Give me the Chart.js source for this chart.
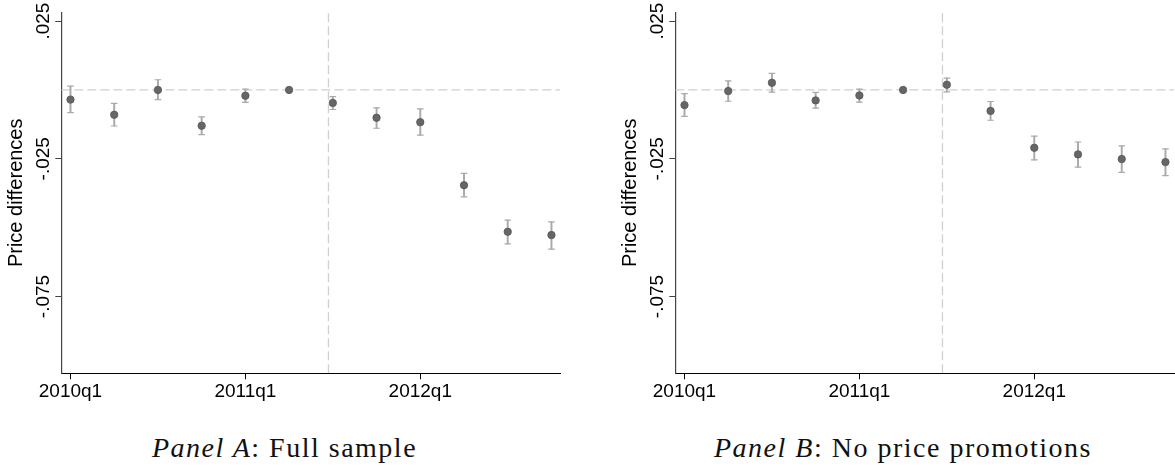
<!DOCTYPE html>
<html>
<head>
<meta charset="utf-8">
<script src="https://cdn.jsdelivr.net/npm/chart.js@4/dist/chart.umd.min.js"></script>
<style>
  html, body { margin: 0; padding: 0; background: #fff; overflow: hidden; }
  body { width: 1175px; height: 468px; position: relative; }
  .panel { position: absolute; top: 0; width: 580px; height: 410px; }
  #panelA { left: 0; }
  #panelB { left: 614.3px; }
  .caption {
    position: absolute; top: 432px; width: 420px;
    font-family: "Liberation Serif", serif; font-size: 28px; letter-spacing: 1.5px;
    white-space: nowrap; text-align: center; color: #111; line-height: 32px;
  }
</style>
</head>
<body>
<div class="panel" id="panelA"><canvas id="graficaA" width="580" height="410"></canvas></div>
<div class="panel" id="panelB"><canvas id="graficaB" width="580" height="410"></canvas></div>
<div class="caption" style="left:74.5px"><i>Panel A</i>: Full sample</div>
<div class="caption" style="left:693px"><i>Panel B</i>: No price promotions</div>

<script>
// Trimestres (eje X = índice del trimestre)
const trimestres = ['2010q1','2010q2','2010q3','2010q4','2011q1','2011q2','2011q3','2011q4','2012q1','2012q2','2012q3','2012q4'];
const xTickValues = [0, 4, 8];
const xTickLabels = ['2010q1', '2011q1', '2012q1'];
const yTickValues = [0.025, -0.025, -0.075];
const yTickLabels = ['.025', '-.025', '-.075'];

// Líneas de referencia
const lineaCero = 0;
const trimestreCorte = 5.9;

// Límites de los ejes
const xMin = -0.21, xMax = 11.2;
const yMin = -0.1029, yMax = 0.0282;

// Panel A: muestra completa
const estA = [-0.0035, -0.0090, 0.0000, -0.0130, -0.0021, 0, -0.0047, -0.0101, -0.0117, -0.0346, -0.0515, -0.0527];
const loA  = [-0.0082, -0.0131, -0.0035, -0.0162, -0.0045, null, -0.0071, -0.0139, -0.0164, -0.0388, -0.0559, -0.0578];
const hiA  = [ 0.0014, -0.0049,  0.0037, -0.0098,  0.0003, null, -0.0024, -0.0065, -0.0069, -0.0303, -0.0473, -0.0479];

// Panel B: sin promociones
const estB = [-0.0055, -0.0004, 0.0026, -0.0038, -0.0020, 0, 0.0019, -0.0076, -0.0210, -0.0234, -0.0251, -0.0262];
const loB  = [-0.0096, -0.0041, -0.0008, -0.0066, -0.0044, null, -0.0007, -0.0110, -0.0254, -0.0280, -0.0299, -0.0311];
const hiB  = [-0.0013,  0.0033,  0.0060, -0.0009,  0.0003, null,  0.0043, -0.0042, -0.0168, -0.0189, -0.0203, -0.0214];

const fuenteEjes = 'Liberation Sans';

/**
 * Construye los datasets: puntos, barras de error (barra flotante + topes) y líneas discontinuas
 */
function crearDatasets(est, lo, hi) {
    const intervalos = trimestres
        .map((q, i) => lo[i] === null ? null : { x: i, y: [lo[i], hi[i]] })
        .filter(Boolean);
    const topes = [];
    trimestres.forEach((q, i) => {
        if (lo[i] === null) return;
        topes.push({ x: i, y: lo[i] }, { x: i, y: hi[i] });
    });

    return [
        {
            type: 'scatter',
            data: est.map((v, i) => ({ x: i, y: v })),
            backgroundColor: '#666',
            borderColor: '#555',
            borderWidth: 0.8,
            pointRadius: 3.7,
            order: 0
        },
        {
            type: 'scatter',
            data: topes,
            pointStyle: 'line',
            pointRadius: 3.3,
            borderColor: '#aaa',
            borderWidth: 1.2,
            order: 1
        },
        {
            type: 'bar',
            data: intervalos,
            backgroundColor: '#aaa',
            borderWidth: 0,
            barThickness: 1.3,
            order: 2
        },
        {
            type: 'line',
            data: [{ x: xMin, y: lineaCero }, { x: xMax, y: lineaCero }],
            borderColor: '#d0d0d0',
            borderWidth: 1.3,
            borderDash: [9, 4],
            pointRadius: 0,
            order: 3
        },
        {
            type: 'line',
            data: [{ x: trimestreCorte, y: yMin }, { x: trimestreCorte, y: yMax }],
            borderColor: '#d0d0d0',
            borderWidth: 1.3,
            borderDash: [9, 4],
            pointRadius: 0,
            order: 3
        }
    ];
}

function crearOpciones() {
    return {
        responsive: false,
        devicePixelRatio: 1,
        animation: false,
        layout: { padding: { top: 12.3, right: 19.8, left: 0, bottom: 0 } },
        plugins: { legend: { display: false }, tooltip: { enabled: false } },
        scales: {
            x: {
                type: 'linear',
                min: xMin, max: xMax,
                bounds: 'data',
                offset: false,
                afterBuildTicks: s => { s.ticks = xTickValues.map(v => ({ value: v })); },
                afterFit: s => { s.height = 36.7; },
                border: { display: true, color: '#000', width: 1 },
                grid: { display: true, offset: false, drawOnChartArea: false, drawTicks: true, tickLength: 6, color: '#000' },
                ticks: {
                    autoSkip: false, minRotation: 0, maxRotation: 0, padding: 1,
                    font: { family: fuenteEjes, size: 19 }, color: '#000',
                    callback: (v, i) => xTickLabels[i]
                }
            },
            y: {
                type: 'linear',
                min: yMin, max: yMax,
                bounds: 'data',
                afterBuildTicks: s => { s.ticks = yTickValues.map(v => ({ value: v })); },
                afterFit: s => { s.width = 61.3; },
                border: { display: true, color: '#444', width: 1.2 },
                grid: { display: true, drawOnChartArea: false, drawTicks: true, tickLength: 6, color: '#444' },
                ticks: {
                    minRotation: 90, maxRotation: 90, crossAlign: 'center', padding: -10.5,
                    font: { family: fuenteEjes, size: 19 }, color: '#000',
                    callback: (v, i) => yTickLabels[i]
                },
                title: {
                    display: true, text: 'Price differences', color: '#000',
                    font: { family: fuenteEjes, size: 20 },
                    padding: { top: 4, bottom: 0 }
                }
            }
        }
    };
}

function renderizarPanel(idCanvas, est, lo, hi) {
    const ctx = document.getElementById(idCanvas).getContext('2d');
    return new Chart(ctx, {
        type: 'scatter',
        data: { datasets: crearDatasets(est, lo, hi) },
        options: crearOpciones()
    });
}

renderizarPanel('graficaA', estA, loA, hiA);
renderizarPanel('graficaB', estB, loB, hiB);
</script>
</body>
</html>
